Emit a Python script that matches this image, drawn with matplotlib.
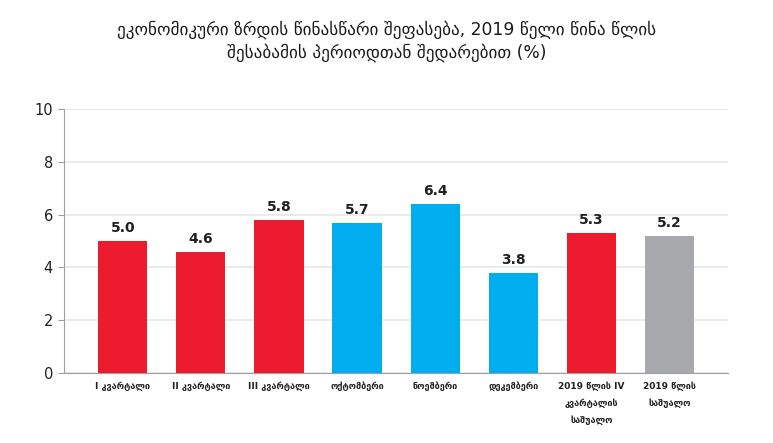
import numpy as np
import matplotlib
matplotlib.use("Agg")
import matplotlib.pyplot as plt

plt.rcParams['font.family'] = ['DejaVu Sans']

categories = ["I კვარტალი", "II კვარტალი", "III კვარტალი", "ოქტომბერი",
              "ნოემბერი", "დეკემბერი", "2019 წლის IV\nკვარტალის\nსაშუალო",
              "2019 წლის\nსაშუალო"]
values = [5.0, 4.6, 5.8, 5.7, 6.4, 3.8, 5.3, 5.2]
colors = ["#ec1c2e", "#ec1c2e", "#ec1c2e", "#00aeef",
          "#00aeef", "#00aeef", "#ec1c2e", "#a7a9ac"]
title = ("ეკონომიკური ზრდის წინასწარი შეფასება, 2019 წელი წინა წლის\n"
         "შესაბამის პერიოდთან შედარებით (%)")

fig = plt.figure(figsize=(7.73, 4.43), dpi=100)
ax = fig.add_axes([0.083, 0.158, 0.859, 0.596])

x = np.arange(len(values))
bars = ax.bar(x, values, width=0.63, color=colors, zorder=3)
for xi, v in zip(x, values):
    ax.text(xi, v + 0.22, f"{v:.1f}", ha="center", va="bottom",
            fontsize=10, fontweight="bold", color="#231f20")

ax.set_xlim(-0.75, 7.75)
ax.set_ylim(0, 10)
ax.set_yticks(np.arange(0, 11, 2))
ax.set_yticklabels([str(t) for t in range(0, 11, 2)], fontsize=10.5, color="#231f20")
ax.set_xticks(x)
ax.set_xticklabels(categories, fontsize=6.5, fontweight="bold", color="#231f20",
                   linespacing=2.0, va="top")
ax.tick_params(axis="x", length=0, pad=6)
ax.tick_params(axis="y", length=4, color="#9d9fa2", pad=4)
ax.grid(axis="y", color="#e6e7e8", linewidth=1.2, zorder=0)
for s in ["top", "right"]:
    ax.spines[s].set_visible(False)
ax.spines["left"].set_color("#9d9fa2")
ax.spines["bottom"].set_color("#9d9fa2")

fig.text(0.5, 0.907, title, ha="center", va="center", fontsize=12.3,
         color="#1a1a1a", linespacing=1.35)

fig.savefig("out.png", dpi=100)
